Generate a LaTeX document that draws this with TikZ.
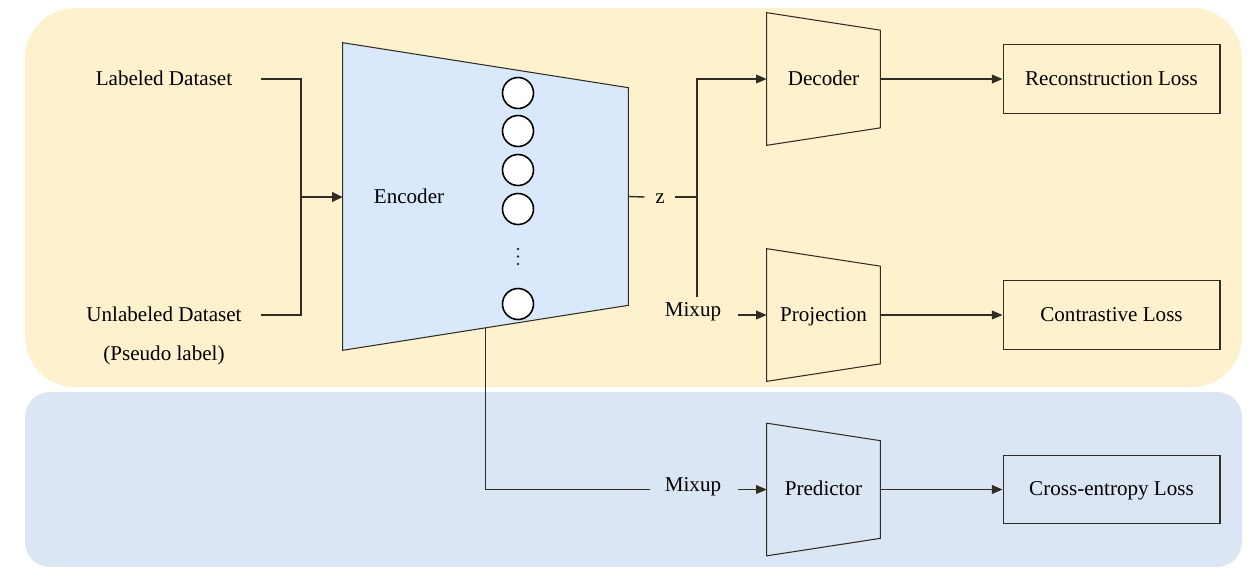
\documentclass[tikz,border=0pt]{standalone}
\usepackage{fontspec}
\setmainfont{Liberation Serif}
\usetikzlibrary{arrows.meta,calc}

\definecolor{panelyellow}{RGB}{253,242,205}
\definecolor{panelblue}{RGB}{219,230,245}
\definecolor{encfill}{RGB}{218,232,252}
\definecolor{edge}{RGB}{50,45,35}

\tikzset{
  conn/.style={draw=edge,line width=0.6pt},
  arr/.style={conn,-{Triangle[length=6pt,width=5pt]}},
  trap/.style={minimum width=2.26cm,minimum height=2.64cm,inner sep=0pt},
  lossbox/.style={draw=edge,line width=0.6pt,minimum width=4.34cm,minimum height=1.37cm},
  neuron/.style={circle,draw=black,line width=0.9pt,fill=white,minimum size=0.62cm,inner sep=0pt},
  dataset/.style={minimum width=3.88cm,inner sep=0pt}
}

\begin{document}
\begin{tikzpicture}[x=0.02cm,y=-0.02cm,font=\fontsize{12}{14}\selectfont,
    every node/.append style={text height=1.6ex,text depth=0pt}]
  \useasboundingbox (0,0) rectangle (1258,576);
  % panels
  \fill[panelyellow,rounded corners=1cm](25,8) rectangle (1242,387);
  \fill[panelblue,rounded corners=0.5cm](25,392) rectangle (1242,567);

  % inputs
  \node[dataset](lab) at (164,79){Labeled Dataset};
  \node[dataset](unl) at (164,315){Unlabeled Dataset};
  \node(pse) at (164,354){(Pseudo label)};
  \coordinate(join) at (301,197);

  % encoder
  \node[minimum width=5.7cm,minimum height=6.14cm,inner sep=0pt](enc) at (485.5,196.5){};
  \draw[edge,line width=0.6pt,fill=encfill](enc.north west) -- ([yshift=-0.9cm]enc.north east)
    -- ([yshift=0.9cm]enc.south east) -- (enc.south west) -- cycle;
  \node(enclab) at (409,197){Encoder};
  \foreach \y [count=\i] in {93,131,170,209,304}
    \node[neuron](n\i) at (518,\y){};
  \foreach \y in {249,256.5,264}
    \fill[edge](518,\y) circle (0.8pt);
  \coordinate(tap) at ($(enc.south west)!0.5!([yshift=0.9cm]enc.south east)$);

  % heads
  \node[trap](dec) at (823.5,79){Decoder};
  \node[trap](proj) at (823.5,315){Projection};
  \node[trap](pred) at (823.5,489.5){Predictor};
  \foreach \n in {dec,proj,pred}
    \draw[edge,line width=0.6pt](\n.north west) -- ([yshift=-0.35cm]\n.north east)
      -- ([yshift=0.35cm]\n.south east) -- (\n.south west) -- cycle;

  % losses
  \node[lossbox](rec) at (1111.5,79){Reconstruction Loss};
  \node[lossbox](con) at (1111.5,315){Contrastive Loss};
  \node[lossbox](ce) at (1111.5,489.5){Cross-entropy Loss};

  \node[minimum width=0.6cm,inner sep=0pt](z) at (660,197){z};
  \coordinate(split) at (697,197);
  \node(mix1) at (693,310){Mixup};
  \node(mix2) at (693,485){Mixup};

  % connectors
  \draw[conn](lab.east) -| (join) |- (unl.east);
  \draw[conn,line width=1.1pt,-{Triangle[length=6pt,width=5.5pt]}](join) -- (join -| enc.west);
  \draw[conn,line width=0.8pt](enc.east) -- (z.west);
  \draw[conn,line width=0.8pt](z.east) -- (split);
  \draw[arr](split) |- (dec.west);
  \draw[conn](split) -- (split |- mix1.north);
  \draw[arr]([xshift=0.22cm]mix1.east |- proj.west) -- (proj.west);
  \draw[conn](tap) |- ([xshift=-0.18cm]mix2.west |- pred.west);
  \draw[arr]([xshift=0.22cm]mix2.east |- pred.west) -- (pred.west);
  \draw[arr](dec.east) -- (rec.west);
  \draw[arr](proj.east) -- (con.west);
  \draw[arr](pred.east) -- (ce.west);
\end{tikzpicture}
\end{document}
